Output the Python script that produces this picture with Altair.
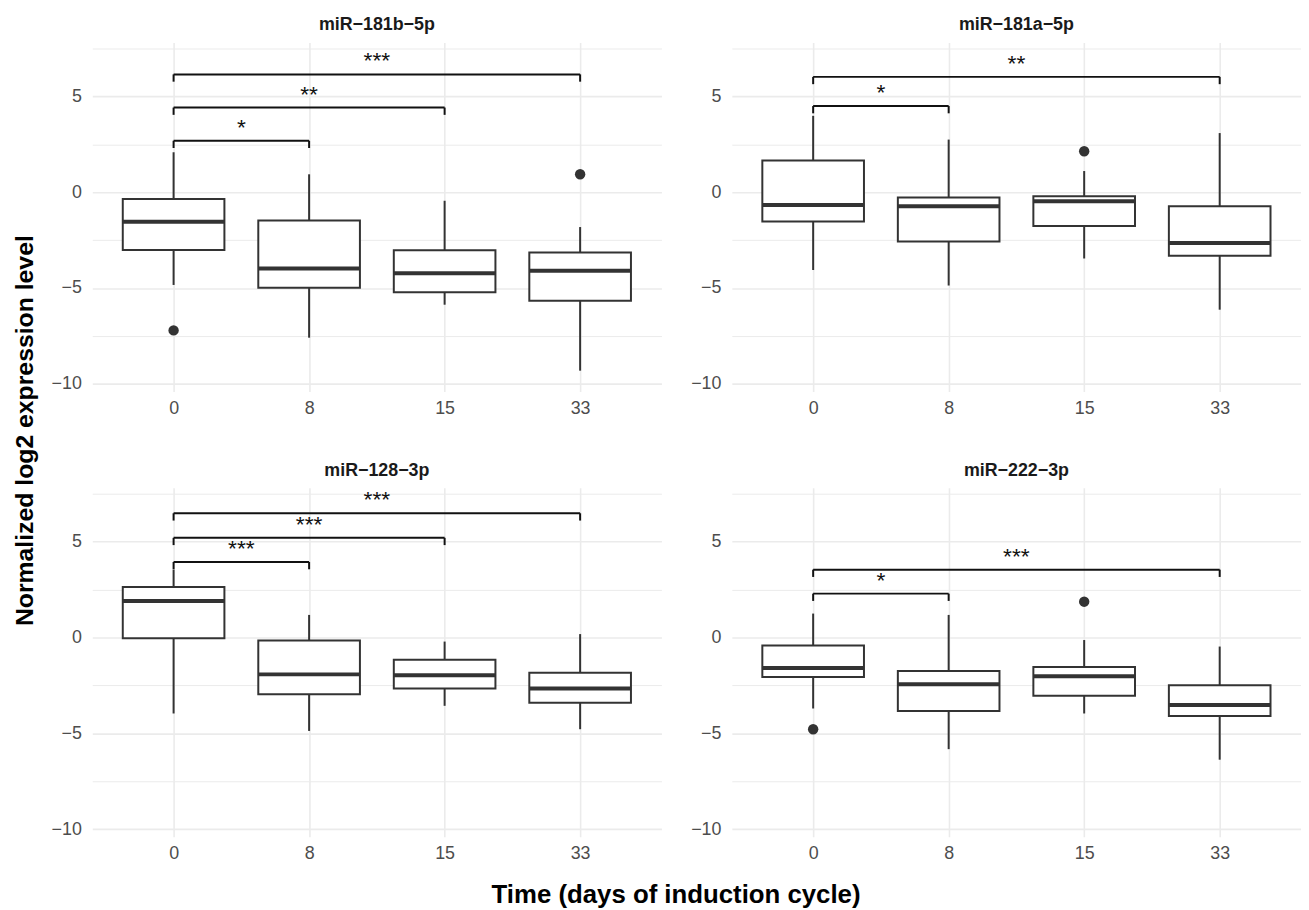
import altair as alt
import pandas as pd

FONT = "Liberation Sans"
BOX_COLOR = "#333333"
GRID_COLOR = "#ebebeb"

DAYS = ["0", "8", "15", "33"]
MIRNAS = ["miR−181b−5p", "miR−181a−5p", "miR−128−3p", "miR−222−3p"]

# box statistics per miRNA, one value per day
LOWER = {
    "miR−181b−5p": [-4.84, -7.59, -5.87, -9.31],
    "miR−181a−5p": [-4.06, -4.87, -3.46, -6.13],
    "miR−128−3p": [-3.97, -4.88, -3.57, -4.79],
    "miR−222−3p": [-3.71, -5.83, -3.97, -6.38],
}
Q1 = {
    "miR−181b−5p": [-3.02, -4.99, -5.22, -5.66],
    "miR−181a−5p": [-1.53, -2.58, -1.76, -3.32],
    "miR−128−3p": [-0.05, -2.97, -2.67, -3.41],
    "miR−222−3p": [-2.07, -3.84, -3.05, -4.10],
}
MEDIAN = {
    "miR−181b−5p": [-1.54, -3.98, -4.23, -4.10],
    "miR−181a−5p": [-0.67, -0.74, -0.48, -2.65],
    "miR−128−3p": [1.90, -1.93, -1.98, -2.67],
    "miR−222−3p": [-1.60, -2.45, -2.03, -3.53],
}
Q3 = {
    "miR−181b−5p": [-0.36, -1.48, -3.03, -3.15],
    "miR−181a−5p": [1.65, -0.28, -0.22, -0.74],
    "miR−128−3p": [2.62, -0.17, -1.17, -1.84],
    "miR−222−3p": [-0.43, -1.76, -1.55, -2.50],
}
UPPER = {
    "miR−181b−5p": [2.08, 0.93, -0.45, -1.82],
    "miR−181a−5p": [3.98, 2.74, 1.10, 3.08],
    "miR−128−3p": [3.53, 1.17, -0.22, 0.17],
    "miR−222−3p": [1.24, 1.17, -0.14, -0.48],
}

OUTLIER_MIRNA = ["miR−181b−5p", "miR−181b−5p", "miR−181a−5p", "miR−222−3p", "miR−222−3p"]
OUTLIER_DAY = ["0", "33", "15", "0", "15"]
OUTLIER_VALUE = [-7.21, 0.93, 2.13, -4.79, 1.86]

BRACKET_MIRNA = ["miR−181b−5p", "miR−181b−5p", "miR−181b−5p",
                 "miR−181a−5p", "miR−181a−5p",
                 "miR−128−3p", "miR−128−3p", "miR−128−3p",
                 "miR−222−3p", "miR−222−3p"]
BRACKET_FROM = ["0", "0", "0", "0", "0", "0", "0", "0", "0", "0"]
BRACKET_TO = ["8", "15", "33", "8", "33", "8", "15", "33", "8", "33"]
BRACKET_Y = [2.68, 4.41, 6.14, 4.49, 6.01, 3.93, 5.19, 6.47, 2.28, 3.53]
BRACKET_LABEL = ["*", "**", "***", "*", "**", "***", "***", "***", "*", "***"]

Y_TICKS = [-10, -7.5, -5, -2.5, 0, 2.5, 5, 7.5]

# ---------- tables ----------
rows = []
for m in MIRNAS:
    for i, d in enumerate(DAYS):
        rows.append({"mirna": m, "idx": i, "lower": LOWER[m][i], "q1": Q1[m][i],
                     "median": MEDIAN[m][i], "q3": Q3[m][i], "upper": UPPER[m][i]})
box_df = pd.DataFrame(rows)

out_df = pd.DataFrame({"mirna": OUTLIER_MIRNA,
                       "idx": [DAYS.index(d) for d in OUTLIER_DAY],
                       "value": OUTLIER_VALUE})

br_df = pd.DataFrame({"mirna": BRACKET_MIRNA,
                      "x1": [DAYS.index(d) for d in BRACKET_FROM],
                      "x2": [DAYS.index(d) for d in BRACKET_TO],
                      "y": BRACKET_Y,
                      "label": BRACKET_LABEL})

HALF_BOX = 0.375   # boxplot width 0.75 of a category step
TIP = 0.38         # bracket tip length

label_expr = "[" + ",".join("'%s'" % d for d in DAYS) + "][datum.value]"

X_SCALE = alt.Scale(domain=[-0.6, len(DAYS) - 0.4], nice=False, zero=False)
Y_SCALE = alt.Scale(domain=[-10.4, 7.8], nice=False, zero=False)

X_AXIS = alt.Axis(values=list(range(len(DAYS))), labelExpr=label_expr, title=None,
                  grid=True, ticks=False, tickSize=0, domain=False,
                  labelFontSize=18, labelColor="#4d4d4d", labelFont=FONT,
                  labelPadding=8, gridColor=GRID_COLOR, gridWidth=1.6)
Y_AXIS = alt.Axis(values=Y_TICKS, labelExpr="datum.value % 5 === 0 ? datum.label : ''",
                  title=None, grid=True, ticks=False, tickSize=0, domain=False,
                  labelFontSize=18, labelColor="#4d4d4d", labelFont=FONT,
                  labelPadding=11, labelOverlap=False, gridColor=GRID_COLOR,
                  gridWidth={"condition": {"test": "datum.value % 5 === 0", "value": 1.6},
                             "value": 1.0})


def panel(name):
    bdf = box_df[box_df.mirna == name]
    odf = out_df[out_df.mirna == name]
    gdf = br_df[br_df.mirna == name]

    whisk = alt.Chart(bdf).mark_rule(color=BOX_COLOR, strokeWidth=2).encode(
        x=alt.X("idx:Q", scale=X_SCALE, axis=X_AXIS),
        y=alt.Y("lower:Q", scale=Y_SCALE, axis=Y_AXIS),
        y2="upper:Q",
    )
    boxbase = alt.Chart(bdf).transform_calculate(
        left="datum.idx - %f" % HALF_BOX, right="datum.idx + %f" % HALF_BOX)
    box = boxbase.mark_rect(fill="white", stroke=BOX_COLOR, strokeWidth=2).encode(
        x=alt.X("left:Q", scale=X_SCALE, axis=X_AXIS),
        x2="right:Q",
        y=alt.Y("q1:Q", scale=Y_SCALE, axis=Y_AXIS),
        y2="q3:Q",
    )
    med = boxbase.mark_rule(color=BOX_COLOR, strokeWidth=4).encode(
        x=alt.X("left:Q", scale=X_SCALE, axis=X_AXIS),
        x2="right:Q",
        y=alt.Y("median:Q", scale=Y_SCALE, axis=Y_AXIS),
    )
    layers = [whisk, box, med]
    if len(odf):
        pts = alt.Chart(odf).mark_circle(color=BOX_COLOR, size=110, opacity=1).encode(
            x=alt.X("idx:Q", scale=X_SCALE, axis=X_AXIS),
            y=alt.Y("value:Q", scale=Y_SCALE, axis=Y_AXIS),
        )
        layers.append(pts)
    hbar = alt.Chart(gdf).mark_rule(color="#111111", strokeWidth=2).encode(
        x=alt.X("x1:Q", scale=X_SCALE, axis=X_AXIS),
        x2="x2:Q",
        y=alt.Y("y:Q", scale=Y_SCALE, axis=Y_AXIS),
    )
    legs = alt.Chart(gdf).transform_fold(["x1", "x2"], as_=["end", "xpos"]).transform_calculate(
        ytip="datum.y - %f" % TIP).mark_rule(color="#111111", strokeWidth=2).encode(
        x=alt.X("xpos:Q", scale=X_SCALE, axis=X_AXIS),
        y=alt.Y("y:Q", scale=Y_SCALE, axis=Y_AXIS),
        y2="ytip:Q",
    )
    stars = alt.Chart(gdf).transform_calculate(xm="(datum.x1 + datum.x2) / 2").mark_text(
        font=FONT, fontSize=23, color="#111111", baseline="alphabetic", dy=-6).encode(
        x=alt.X("xm:Q", scale=X_SCALE, axis=X_AXIS),
        y=alt.Y("y:Q", scale=Y_SCALE, axis=Y_AXIS),
        text="label:N",
    )
    layers += [hbar, legs, stars]
    return alt.layer(*layers).properties(
        width=574, height=352,
        view=alt.ViewBackground(strokeWidth=0, stroke="transparent"),
        title=alt.TitleParams(name, fontSize=18, fontWeight="bold", font=FONT,
                              color="#1a1a1a", offset=5, anchor="middle"),
    )


grid = alt.concat(*[panel(m) for m in MIRNAS], columns=2,
                  spacing={"row": 44, "column": 29}).properties(
    title=alt.TitleParams("Time (days of induction cycle)", orient="bottom",
                          fontSize=26, fontWeight="bold", font=FONT, color="black",
                          offset=20, anchor="middle"))

chart = alt.hconcat(grid).properties(
    title=alt.TitleParams("Normalized log2 expression level", orient="left",
                          fontSize=25, fontWeight="bold", font=FONT, color="black",
                          offset=13.5, anchor="middle", dx=32),
    padding={"left": 4, "top": 4, "right": 0, "bottom": 0},
    background="white",
).configure_view(strokeWidth=0, stroke="transparent")

chart.save("out.html", embed_options={"renderer": "svg", "actions": False})
